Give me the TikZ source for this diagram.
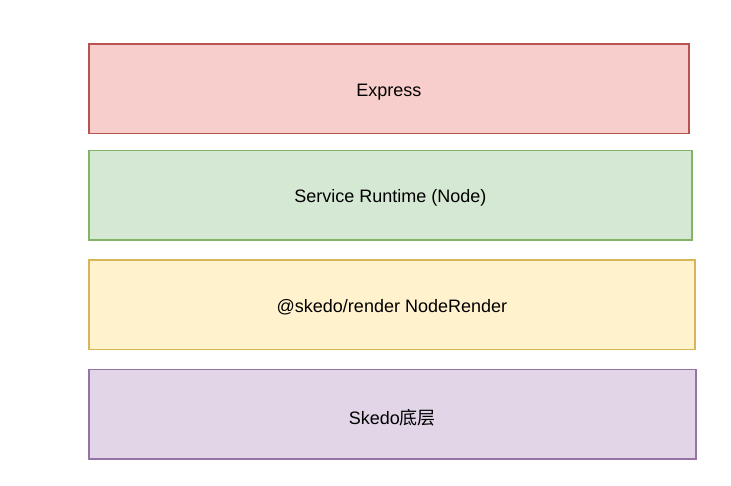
\documentclass[tikz,border=0pt]{standalone}
\usepackage{fontspec}
\setmainfont{Liberation Sans}
\newfontfamily\cjk{Noto Sans CJK SC}
\definecolor{redfill}{HTML}{F8CECC}\definecolor{redline}{HTML}{B85450}
\definecolor{greenfill}{HTML}{D5E8D4}\definecolor{greenline}{HTML}{82B366}
\definecolor{yellowfill}{HTML}{FFF2CC}\definecolor{yellowline}{HTML}{D6B656}
\definecolor{purplefill}{HTML}{E1D5E7}\definecolor{purpleline}{HTML}{9673A6}
\tikzset{
  layer/.style={draw, line width=1.8pt},
  layertext/.style={inner sep=0pt, yshift=-3pt, font=\fontsize{18}{21}\selectfont, text=black}}
\begin{document}
\begin{tikzpicture}[x=1pt,y=-1pt]
\useasboundingbox[fill=white] (0,0) rectangle (731,486);
\draw[layer, fill=redfill, draw=redline] (88.8,43.9) rectangle (689,133.5) node[midway, layertext] (express) {Express};
\draw[layer, fill=greenfill, draw=greenline] (88.8,150.5) rectangle (692,240) node[midway, layertext] (runtime) {Service Runtime (Node)};
\draw[layer, fill=yellowfill, draw=yellowline] (88.8,259.9) rectangle (695,349.5) node[midway, layertext] (render) {@skedo/render NodeRender};
\draw[layer, fill=purplefill, draw=purpleline] (88.8,369.5) rectangle (696,459) node[midway, layertext] (base) {Skedo{\cjk 底层}};
\end{tikzpicture}
\end{document}
